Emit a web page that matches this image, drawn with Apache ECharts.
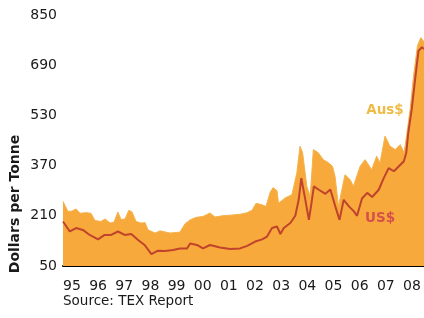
<!DOCTYPE html>
<html>
<head>
<meta charset="utf-8">
<script src="https://cdn.jsdelivr.net/npm/echarts@6/dist/echarts.min.js"></script>
<style>
html,body{margin:0;padding:0;background:#fff;}
#chart{width:424px;height:318px;}
</style>
</head>
<body>
<div id="chart"></div>
<script>
// US$ price (decimal year, value)
var usDates = [1995.00,1995.07,1995.26,1995.50,1995.76,1996.02,1996.34,1996.59,1996.84,1997.10,1997.36,1997.61,1997.87,1998.12,1998.38,1998.63,1998.90,1999.21,1999.47,1999.74,1999.86,2000.12,2000.35,2000.62,2001.00,2001.39,2001.77,2002.04,2002.35,2002.61,2002.80,2002.99,2003.18,2003.31,2003.44,2003.69,2003.88,2004.01,2004.11,2004.24,2004.40,2004.50,2004.59,2004.78,2005.03,2005.22,2005.41,2005.57,2005.73,2005.93,2006.12,2006.24,2006.43,2006.63,2006.82,2007.07,2007.26,2007.45,2007.65,2007.84,2008.03,2008.12,2008.20,2008.33,2008.46,2008.59,2008.72,2008.80];
var usValues = [192,189,160,171,165,149,135,149,149,160,149,152,133,117,88,99,98,101,106,106,122,117,106,117,109,104,106,114,128,135,144,171,176,152,171,187,210,261,330,272,197,251,304,293,280,294,240,197,261,240,224,210,265,283,270,293,330,362,352,368,384,410,475,549,645,736,747,742];
// Aus$ price (decimal year, value)
var ausDates = [1995.00,1995.07,1995.19,1995.34,1995.50,1995.65,1995.88,1996.07,1996.22,1996.45,1996.61,1996.80,1996.95,1997.10,1997.22,1997.37,1997.52,1997.64,1997.79,1997.98,1998.14,1998.25,1998.52,1998.71,1999.09,1999.47,1999.67,1999.86,2000.09,2000.35,2000.62,2000.81,2001.08,2001.39,2001.77,2002.04,2002.23,2002.38,2002.61,2002.76,2002.92,2003.03,2003.18,2003.24,2003.49,2003.75,2003.94,2004.06,2004.16,2004.32,2004.45,2004.57,2004.76,2004.95,2005.15,2005.30,2005.40,2005.53,2005.78,2005.98,2006.10,2006.36,2006.55,2006.80,2006.99,2007.12,2007.31,2007.50,2007.70,2007.89,2008.04,2008.14,2008.27,2008.40,2008.55,2008.68,2008.80];
var ausValues = [256,252,224,225,232,218,220,218,195,192,200,187,190,222,198,200,228,222,192,187,188,165,155,162,155,158,185,197,205,208,219,206,210,212,215,220,228,250,245,240,285,300,290,250,267,277,347,432,411,304,272,421,411,389,379,368,336,240,341,325,304,368,389,357,400,379,464,432,421,437,411,469,549,656,752,778,765];
// Axis ticks
var yTicks = [50,210,370,530,690,850];
var yearLabels = ['95','96','97','98','99','00','01','02','03','04','05','06','07','08'];

function pairs(xs, ys){ return xs.map(function(x,i){ return [x, ys[i]]; }); }

var chart = echarts.init(document.getElementById('chart'), null, {renderer:'canvas'});
chart.setOption({
  animation:false,
  backgroundColor:'#fff',
  grid:{left:63, right:0, top:15, bottom:52, containLabel:false},
  xAxis:{
    type:'value', min:1995, max:2008.8, interval:1,
    axisLine:{show:true, onZero:false, lineStyle:{color:'#000', width:2}},
    axisTick:{show:false},
    splitLine:{show:false},
    axisLabel:{
      margin:13, align:'left', color:'#1a1a1a', fontFamily:'DejaVu Sans', fontSize:14,
      showMaxLabel:false,
      formatter:function(v){ var i = Math.round(v-1995); return (Math.abs(v-Math.round(v))<1e-6 && yearLabels[i]) ? yearLabels[i] : ''; }
    }
  },
  yAxis:{
    type:'value', min:yTicks[0], max:yTicks[yTicks.length-1], interval:yTicks[1]-yTicks[0],
    axisLine:{show:false}, axisTick:{show:false}, splitLine:{show:false},
    axisLabel:{margin:6, color:'#1a1a1a', fontFamily:'DejaVu Sans', fontSize:14}
  },
  series:[
    {name:'Aus$', type:'line', data:pairs(ausDates, ausValues), symbol:'none', z:1,
     lineStyle:{width:1, color:'#f3b24a'}, areaStyle:{color:'#f8a93c', opacity:1}},
    {name:'US$', type:'line', data:pairs(usDates, usValues), symbol:'none', z:2,
     lineStyle:{width:2, color:'#c0432c'}}
  ],
  graphic:[
    {type:'text', x:15, y:204, rotation:Math.PI/2, z:100,
     style:{text:'Dollars per Tonne', fontFamily:'DejaVu Sans', fontWeight:'bold', fontSize:14, fill:'#1a1a1a', align:'center', verticalAlign:'middle'}},
    {type:'text', x:63, y:294, z:100,
     style:{text:'Source: TEX Report', fontFamily:'DejaVu Sans', fontSize:13.5, fill:'#1a1a1a', align:'left', verticalAlign:'top'}},
    {type:'text', x:385, y:110, z:100,
     style:{text:'Aus$', fontFamily:'DejaVu Sans', fontWeight:'bold', fontSize:13.5, fill:'#efbb47', align:'center', verticalAlign:'middle'}},
    {type:'text', x:380, y:218, z:100,
     style:{text:'US$', fontFamily:'DejaVu Sans', fontWeight:'bold', fontSize:13.5, fill:'#d65049', align:'center', verticalAlign:'middle'}}
  ]
});
</script>
</body>
</html>
